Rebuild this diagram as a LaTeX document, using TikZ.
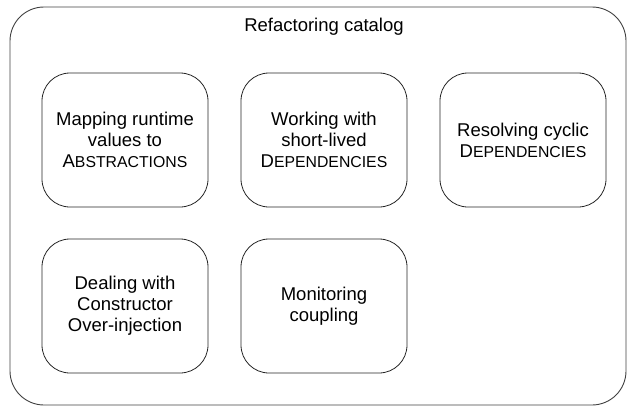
\documentclass[tikz,border=0pt]{standalone}
\usepackage{fontspec}
\setmainfont{Liberation Sans}
\newcommand\fsc[2]{#1{\fontsize{15.8}{21}\selectfont #2}}
\begin{document}
\begin{tikzpicture}[x=1pt,y=-1pt,
  itembox/.style={draw=black!85, line width=0.8pt, rounded corners=28pt,
    minimum width=166pt, minimum height=134pt, align=center,
    font=\fontsize{18.5}{21}\selectfont, inner sep=0pt},
  outerbox/.style={draw=black!75, line width=0.9pt, rounded corners=34pt}]
\useasboundingbox (0,0) rectangle (630,407);
\node[outerbox, minimum width=616pt, minimum height=398pt, inner sep=0pt] (frame) at (318,206) {};
\node[font=\fontsize{18.5}{21}\selectfont] (title) at (324,27) {Refactoring catalog};
\node[itembox] (map) at (125,140) {Mapping runtime\\values to\\\fsc{A}{BSTRACTIONS}};
\node[itembox] (work) at (324,140) {Working with\\short-lived\\\fsc{D}{EPENDENCIES}};
\node[itembox] (cyc) at (523,140) {Resolving cyclic\\\fsc{D}{EPENDENCIES}};
\node[itembox] (deal) at (125,306) {Dealing with\\Constructor\\Over-injection};
\node[itembox] (mon) at (324,306) {Monitoring\\coupling};
\end{tikzpicture}
\end{document}
